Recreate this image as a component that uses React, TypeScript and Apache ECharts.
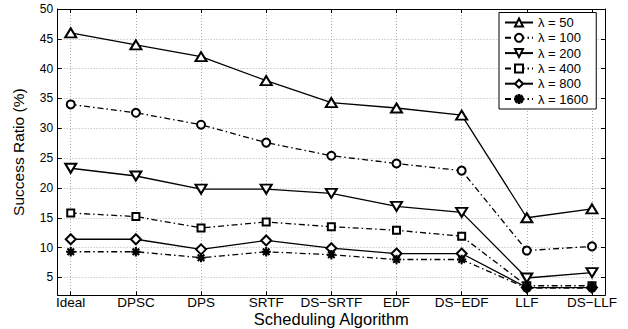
import React, { useEffect, useRef } from "react";
import * as echarts from "echarts";

const categories = ["Ideal", "DPSC", "DPS", "SRTF", "DS\u2212SRTF", "EDF", "DS\u2212EDF", "LLF", "DS\u2212LLF"];
const yTicks = [5, 10, 15, 20, 25, 30, 35, 40, 45, 50];

const lambda50 = [46, 44, 42, 38, 34.3, 33.4, 32.2, 15, 16.5];
const lambda100 = [34, 32.6, 30.6, 27.6, 25.4, 24.1, 22.9, 9.5, 10.2];
const lambda200 = [23.3, 22, 19.8, 19.8, 19.1, 16.9, 15.9, 4.9, 5.8];
const lambda400 = [15.8, 15.2, 13.3, 14.3, 13.5, 12.9, 11.9, 3.6, 3.6];
const lambda800 = [11.4, 11.4, 9.7, 11.2, 9.9, 9.0, 9.0, 3.3, 3.3];
const lambda1600 = [9.3, 9.3, 8.3, 9.3, 8.8, 8.0, 8.0, 3.2, 3.2];

const seriesNames = ["\u03bb = 50", "\u03bb = 100", "\u03bb = 200", "\u03bb = 400", "\u03bb = 800", "\u03bb = 1600"];

const starPath =
  "path://M0,9L20,9L20,11L0,11Z M9,0L11,0L11,20L9,20Z M2.2,3.6L3.6,2.2L17.8,16.4L16.4,17.8Z M16.4,2.2L17.8,3.6L3.6,17.8L2.2,16.4Z";

const FONT = "'Liberation Sans', Arial, Helvetica, sans-serif";
const dashDot = [6, 3, 1.5, 3];

export default function App() {
  const ref = useRef<HTMLDivElement>(null);
  useEffect(() => {
    if (!ref.current) return;
    const chart = echarts.init(ref.current, undefined, { renderer: "svg" });
    const toPts = (arr: number[]) => arr.map((v, i) => [i, v]);
    const mk = (
      name: string,
      data: number[],
      symbol: string,
      size: number | number[],
      dashed: boolean,
      rotate = 0
    ) => ({
      name,
      type: "line",
      data: toPts(data),
      symbol,
      symbolSize: size,
      symbolRotate: rotate,
      showAllSymbol: true,
      lineStyle: { color: "#000", width: 1.3, type: dashed ? dashDot : "solid" },
      itemStyle: { color: "#000", borderColor: "#000", borderWidth: 1.3 },
      emphasis: { disabled: true },
      z: 3,
    });
    const valFmt = (v: number) => {
      const i = Math.round(v);
      return categories[i] ?? "";
    };
    chart.setOption({
      animation: false,
      backgroundColor: "#fff",
      textStyle: { fontFamily: FONT },
      grid: { left: 57.7, right: 23, top: 9, bottom: 33.7, show: false, outerBoundsMode: "none", containLabel: false },
      legend: {
        orient: "vertical",
        left: 499,
        top: 12.5,
        backgroundColor: "#fff",
        borderColor: "#000",
        borderWidth: 1,
        borderRadius: 0,
        padding: [3, 8, 3, 5],
        itemWidth: 28,
        itemHeight: 10,
        itemGap: 1.3,
        textStyle: { fontFamily: FONT, fontSize: 13, color: "#000", lineHeight: 14 },
        data: seriesNames,
      },
      xAxis: [
        {
          type: "value",
          min: -0.2,
          max: 8.2,
          position: "bottom",
          name: "Scheduling Algorithm",
          nameLocation: "middle",
          nameGap: 16,
          nameMoveOverlap: false,
          nameTextStyle: { fontFamily: FONT, fontSize: 16.5, lineHeight: 15, color: "#000", verticalAlign: "top" },
          axisLine: { show: true, onZero: false, lineStyle: { color: "#000", width: 1 } },
          axisTick: { show: true, inside: true, length: 4, customValues: [0, 1, 2, 3, 4, 5, 6, 7, 8], lineStyle: { color: "#000" } },
          axisLabel: {
            customValues: [0, 1, 2, 3, 4, 5, 6, 7, 8],
            formatter: valFmt,
            fontFamily: FONT,
            fontSize: 13.5,
            lineHeight: 12.4,
            color: "#000",
            margin: 1,
          },
          splitLine: { show: true, lineStyle: { color: "#b0b0b0", type: [1, 2], width: 1 } },
        },
        {
          type: "value",
          min: -0.2,
          max: 8.2,
          position: "top",
          axisLine: { show: true, onZero: false, lineStyle: { color: "#000", width: 1 } },
          axisTick: { show: true, inside: true, length: 4, customValues: [0, 1, 2, 3, 4, 5, 6, 7, 8], lineStyle: { color: "#000" } },
          axisLabel: { show: false },
          splitLine: { show: false },
        },
      ],
      yAxis: [
        {
          type: "value",
          min: 2,
          max: 50,
          position: "left",
          name: "Success Ratio (%)",
          nameLocation: "middle",
          nameGap: 31,
          nameRotate: 90,
          nameMoveOverlap: false,
          nameTextStyle: { fontFamily: FONT, fontSize: 15.5, color: "#000" },
          axisLine: { show: true, onZero: false, lineStyle: { color: "#000", width: 1 } },
          axisTick: { show: true, inside: true, length: 4, customValues: yTicks, lineStyle: { color: "#000" } },
          axisLabel: { customValues: yTicks, fontFamily: FONT, fontSize: 12, color: "#000", margin: 4.5 },
          splitLine: { show: true, lineStyle: { color: "#b0b0b0", type: [1, 2], width: 1 } },
        },
        {
          type: "value",
          min: 2,
          max: 50,
          position: "right",
          axisLine: { show: true, onZero: false, lineStyle: { color: "#000", width: 1 } },
          axisTick: { show: true, inside: true, length: 4, customValues: yTicks, lineStyle: { color: "#000" } },
          axisLabel: { show: false },
          splitLine: { show: false },
        },
      ],
      series: [
        mk(seriesNames[0], lambda50, "emptyTriangle", [11, 9], false),
        mk(seriesNames[1], lambda100, "emptyCircle", 8, true),
        mk(seriesNames[2], lambda200, "emptyTriangle", [11, 9], false, 180),
        mk(seriesNames[3], lambda400, "emptyRect", 7, true),
        mk(seriesNames[4], lambda800, "emptyDiamond", 10, false),
        mk(seriesNames[5], lambda1600, starPath, 8, true),
      ],
    });
    return () => chart.dispose();
  }, []);
  return <div ref={ref} style={{ width: 628, height: 329, position: "absolute", left: 0, top: 0 }} />;
}
